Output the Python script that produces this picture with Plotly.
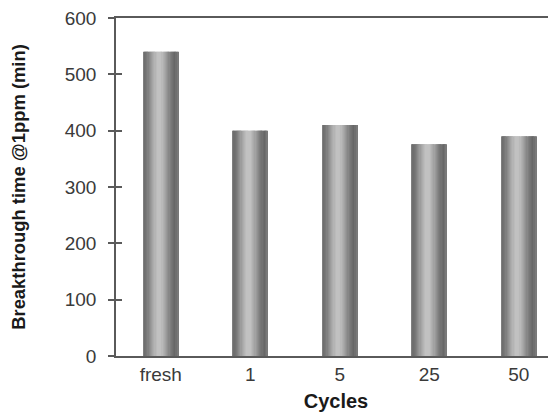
import plotly.graph_objects as go

categories = ["fresh", "1", "5", "25", "50"]
breakthrough_min = [540, 400, 410, 376, 390]
y_ticks = [0, 100, 200, 300, 400, 500, 600]

# cylinder shading profile across a bar (fraction, grey level)
profile = [(0.00, 0x8c), (0.04, 0x6c), (0.12, 0x78), (0.30, 0xaa), (0.42, 0xc2),
           (0.52, 0xc0), (0.65, 0xa2), (0.80, 0x7a), (0.92, 0x66), (1.00, 0x7e)]

def grey_at(t):
    for (t0, g0), (t1, g1) in zip(profile, profile[1:]):
        if t0 <= t <= t1:
            g = g0 + (g1 - g0) * (t - t0) / (t1 - t0)
            g = int(round(g))
            return f"rgb({g},{g},{g})"
    g = profile[-1][1]
    return f"rgb({g},{g},{g})"

BAR_W = 0.39
N = 30
step = BAR_W / N

fig = go.Figure()
for i in range(N):
    t = (i + 0.5) / N
    w = step * 1.6 if i < N - 1 else step
    fig.add_trace(go.Bar(
        x=categories, y=breakthrough_min,
        width=w, offset=-BAR_W / 2 + i * step,
        marker=dict(color=grey_at(t), line=dict(width=0)),
        showlegend=False, hoverinfo="skip",
    ))

# invisible trace so the inner-tick axis is drawn
fig.add_trace(go.Scatter(x=categories, y=breakthrough_min, yaxis="y2",
                         mode="markers", marker=dict(opacity=0),
                         showlegend=False, hoverinfo="skip"))

axis_col = "#5a5a5a"
font_fam = "Liberation Sans, Arial, sans-serif"

fig.update_layout(
    width=548, height=404,
    margin=dict(l=108, r=0, t=10, b=56),
    paper_bgcolor="white", plot_bgcolor="white",
    barmode="overlay",
    font=dict(family=font_fam, size=19, color="#3a3a3a"),
    xaxis=dict(
        range=[-0.5, 4.416], automargin=False,
        showline=True, linecolor=axis_col, linewidth=1.5, mirror=True,
        ticks="", showgrid=False, zeroline=False,
        tickfont=dict(size=19, color="#3a3a3a"),
        title=dict(text="<b>Cycles</b>", font=dict(size=20, color="#1a1a1a"), standoff=12),
    ),
    yaxis=dict(
        range=[0, 600], tickvals=y_ticks, automargin=False,
        showline=True, linecolor=axis_col, linewidth=1.5,
        ticks="outside", ticklen=6, tickwidth=1.5, tickcolor=axis_col,
        showgrid=False, zeroline=False,
        ticklabelstandoff=8, ticklabeloverflow="allow",
        tickfont=dict(size=19, color="#3a3a3a"),
        title=dict(text="<b>Breakthrough time @1ppm (min)</b>",
                   font=dict(size=18.4, color="#1a1a1a"), standoff=34),
    ),
    yaxis2=dict(
        range=[0, 600], tickvals=y_ticks, overlaying="y", side="left", anchor="x",
        ticks="inside", ticklen=6, tickwidth=1.5, tickcolor=axis_col,
        showticklabels=False, showline=False, showgrid=False, zeroline=False,
        automargin=False,
    ),
)

fig.write_html("out.html")
